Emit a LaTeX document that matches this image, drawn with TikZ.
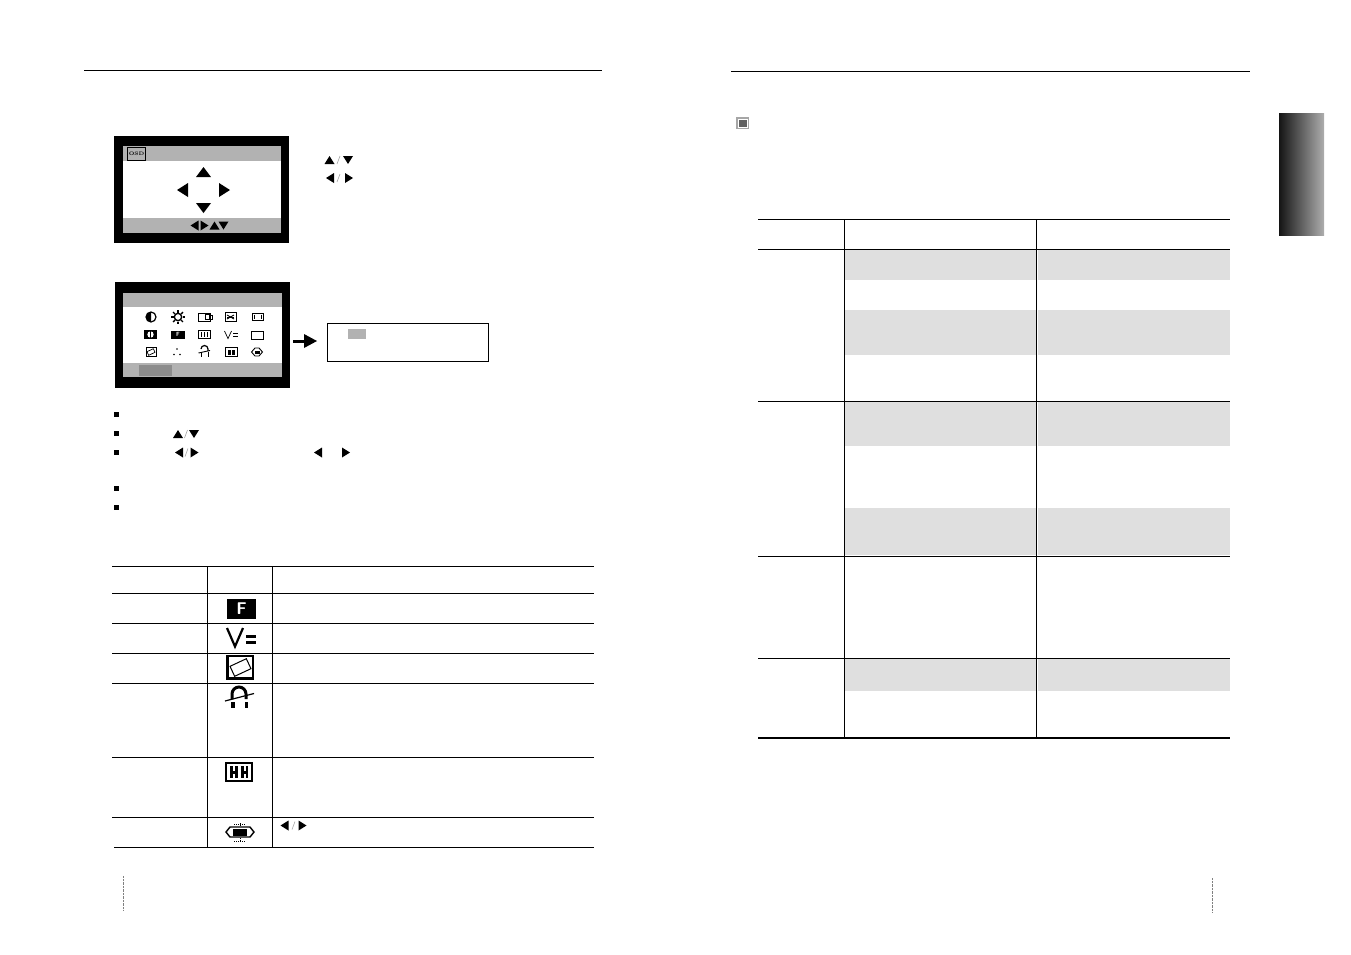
\documentclass[tikz,border=0pt]{standalone}
\usepackage{xcolor}
\usepackage{tikz}
\usetikzlibrary{calc}
\definecolor{barGray}{HTML}{B2B2B2}
\definecolor{rowGray}{HTML}{DFDFDF}
\definecolor{tabGray}{HTML}{8C8C8C}
\newcommand{\triU}[2]{\fill (#1-5,#2+4) -- (#1+5,#2+4) -- (#1,#2-4) -- cycle;}
\newcommand{\triD}[2]{\fill (#1-5,#2-4) -- (#1+5,#2-4) -- (#1,#2+4) -- cycle;}
\newcommand{\triL}[2]{\fill (#1+4,#2-5) -- (#1+4,#2+5) -- (#1-4,#2) -- cycle;}
\newcommand{\triR}[2]{\fill (#1-4,#2-5) -- (#1-4,#2+5) -- (#1+4,#2) -- cycle;}
\newcommand{\slashMark}[2]{\draw[gray!70, line width=0.6pt] (#1-1.5,#2+4) -- (#1+1.5,#2-4);}
\tikzset{
    rule/.style = {line width=0.9pt},
    iconline/.style = {line width=0.9pt},
    iconbold/.style = {line width=2.2pt}
}

\begin{document}
\begin{tikzpicture}[x=1pt, y=-1pt]
    \useasboundingbox (0,0) rectangle (1351,954);

    % Page header rules
    \draw[rule] (84,70.5) -- (602,70.5);
    \draw[rule] (731,71) -- (1250,71);

    % Page number separators
    \draw[densely dotted, gray] (123,876) -- (123,910);
    \draw[densely dotted, gray] (1212,878) -- (1212,912);

    % Side tab
    \shade[left color=black!92, right color=black!32] (1279,113) rectangle (1324,235);

    % First screen
    \fill (114,136) rectangle (289,243);
    \fill[white] (122.5,146) rectangle (281,233);
    \fill[barGray] (122.5,146) rectangle (281,161);
    \fill[barGray] (122.5,218) rectangle (281,233);
    \draw[iconline] (127.5,147.5) rectangle (145.5,160);
    \node[font=\fontsize{5}{5}\selectfont\bfseries, inner sep=0pt] (osdlabel) at (136.5,153.8) {OSD};
    \fill (196,177) -- (211,177) -- (203.5,167) -- cycle;
    \fill (196,203) -- (211,203) -- (203.5,213) -- cycle;
    \fill (188,183) -- (188,197) -- (177,190) -- cycle;
    \fill (219,183) -- (219,197) -- (230,190) -- cycle;
    \triL{194.5}{225.5}
    \triR{204.5}{225.5}
    \triU{214.5}{225.5}
    \triD{223.5}{225.5}

    % Keys next to the first screen
    \triU{329.5}{160}
    \slashMark{338.5}{160}
    \triD{348}{160}
    \triL{330}{178}
    \slashMark{338.5}{178}
    \triR{349}{178}

    % Second screen
    \fill (115,282) rectangle (290,388);
    \fill[white] (123,293) rectangle (282,377);
    \fill[barGray] (123,293) rectangle (282,307);
    \fill[barGray] (123,363) rectangle (282,377);
    \fill[tabGray] (139,365) rectangle (172,376);

    % Menu icons, first row
    \draw[line width=1.2pt] (151,317) circle (5);
    \fill (151,322) arc (90:270:5) -- cycle;
    \draw[line width=1.4pt] (178,317) circle (3.7);
    \foreach \a in {0,45,...,315}
        \draw[line width=1.4pt] ($(178,317)+(\a:4.5)$) -- ($(178,317)+(\a:7)$);
    \draw[iconline] (198,313) rectangle (210,321);
    \draw[iconline] (205,314.5) rectangle (209,319.5);
    \draw[iconline] (210,315) -- (212,315) -- (212,319) -- (210,319);
    \draw[iconline] (225,312.5) rectangle (236,321);
    \draw[iconline] (227,315) -- (234,319);
    \draw[iconline] (227,319) -- (234,315);
    \draw[iconline] (227,317) -- (234,317);
    \draw[iconline] (252,313) rectangle (263,320);
    \draw[iconline] (254,314.5) -- (254,318.5);
    \draw[iconline] (261,314.5) -- (261,318.5);

    % Menu icons, second row
    \fill (144,330) rectangle (157,339);
    \fill[white] (150.5,334.5) circle (3.2);
    \fill (149.6,331) rectangle (151.4,338.5);
    \fill (171,330.5) rectangle (185,338.5);
    \node[white, font=\fontsize{6}{6}\selectfont\sffamily\bfseries, inner sep=0pt] (smallF) at (178,334.5) {F};
    \draw[iconline] (198.5,330.5) rectangle (210.5,338.5);
    \foreach \x in {201.5,204.5,207.5}
        \draw[iconline] (\x,332) -- (\x,337);
    \draw[line width=0.7pt] (224.5,331) -- (228,338.5) -- (231.5,331);
    \draw[line width=0.7pt] (233,333.5) -- (238,333.5);
    \draw[line width=0.7pt] (233,336.5) -- (238,336.5);
    \draw[iconline] (251.5,331) rectangle (263.5,339.5);

    % Menu icons, third row
    \draw[iconline] (146,347.5) rectangle (156.5,356.5);
    \draw[line width=0.7pt, rotate around={25:(151,352)}] (147.5,350) rectangle (154.5,354);
    \fill (177,349) circle (0.9);
    \fill (174,354.5) circle (0.9);
    \fill (180,354.5) circle (0.9);
    \draw[line width=1.2pt] (201,349) arc (180:360:3.5) -- (208,351);
    \draw[iconline] (201,352) -- (201,357);
    \draw[iconline] (208,352) -- (208,357);
    \draw[iconline] (198.5,353) -- (210,350.5);
    \draw[iconline] (225,347.5) rectangle (237,356.5);
    \fill (227.5,349.5) rectangle (230.5,354.5);
    \fill (231.5,349.5) rectangle (234.5,354.5);
    \fill (254.5,350.5) rectangle (259.5,353.5);
    \draw[iconline] (251.5,352) -- (255,348) -- (259,348) -- (262.5,352) -- (259,356) -- (255,356) -- cycle;

    % Pointer arrow and message box
    \draw[line width=3pt] (293,341) -- (306,341);
    \fill (304,334) -- (304,348) -- (317,341) -- cycle;
    \draw[line width=1pt] (327.5,323.5) rectangle (488.5,361);
    \fill[barGray] (348,329) rectangle (366,339);

    % Bullets
    \foreach \y in {414,433,452,488,507}
        \fill (114,\y-2.5) rectangle (119,\y+2.5);

    % Keys in the list
    \triU{178}{434}
    \slashMark{186}{434}
    \triD{194}{434}
    \triL{179}{452.5}
    \slashMark{186.5}{452.5}
    \triR{194.5}{452.5}
    \triL{318}{452.5}
    \triR{346}{452.5}

    % Left table
    \foreach \y in {566,593,623,653,683,757,817}
        \draw[rule] (112,\y) -- (594,\y);
    \draw[rule] (114,847.5) -- (594,847.5);
    \foreach \x in {207.5,272.5}
        \draw[rule] (\x,566) -- (\x,847.5);

    % Table icons
    \fill (227,599) rectangle (256,619);
    \node[white, font=\fontsize{17}{17}\selectfont\sffamily\bfseries, inner sep=0pt] (bigF) at (241.5,609) {F};
    \draw[line width=2.2pt] (227,628) -- (235,646.5) -- (243,628);
    \draw[line width=2.6pt] (246,636.5) -- (256,636.5);
    \draw[line width=2.6pt] (246,642.5) -- (256,642.5);
    \draw[iconbold] (227.5,656) rectangle (253,678.5);
    \draw[line width=1pt, rotate around={25:(240.5,667.5)}] (231.5,662) rectangle (249.5,673);
    \draw[line width=3pt] (232,699) -- (232,694) arc (180:360:7) -- (246,699);
    \fill (230.5,702) rectangle (235,708);
    \fill (244.5,702) rectangle (248,708);
    \draw[line width=1.2pt] (225,701) -- (254,693.5);
    \draw[iconbold] (226,763) rectangle (252,781);
    \fill (230,766) rectangle (237.5,778);
    \fill (241,766) rectangle (248,778);
    \fill[white] (233,766) rectangle (234.5,770.5);
    \fill[white] (233,773.5) rectangle (234.5,778);
    \fill[white] (244,766) rectangle (245.5,770.5);
    \fill[white] (244,773.5) rectangle (245.5,778);
    \fill (233,828.5) rectangle (247,836);
    \draw[line width=1.4pt] (226,832) -- (230,827) -- (250,827) -- (254,832) -- (250,837) -- (230,837) -- cycle;
    \draw[densely dotted, line width=1pt] (240,823) -- (240,826);
    \draw[densely dotted, line width=1pt] (240,838) -- (240,842);
    \draw[densely dotted, line width=1pt] (234,824) -- (246,824);
    \draw[densely dotted, line width=1pt] (234,841) -- (246,841);

    % Keys in the last row
    \triL{284.5}{825.5}
    \slashMark{293.5}{825.5}
    \triR{302.5}{825.5}

    % Right page marker
    \fill[gray!70] (736,117) rectangle (749,129);
    \fill[white] (737.5,118.5) rectangle (747.5,127.5);
    \fill[black!62] (738.5,119.5) rectangle (746.5,126.5);

    % Right table, shaded rows
    \foreach \ya/\yb in {250/279.5,310/354.5,402/445.5,508/555,659/690.5} {
        \fill[rowGray] (845,\ya) rectangle (1035.5,\yb);
        \fill[rowGray] (1037.5,\ya) rectangle (1230,\yb);
    }

    % Right table, rules
    \foreach \y in {219.5,249.5,401.5,556,658.5}
        \draw[rule] (758,\y) -- (1230,\y);
    \draw[line width=1.8pt] (758,738) -- (1230,738);
    \foreach \x in {844.5,1036.5}
        \draw[rule] (\x,219.5) -- (\x,738);
\end{tikzpicture}
\end{document}
